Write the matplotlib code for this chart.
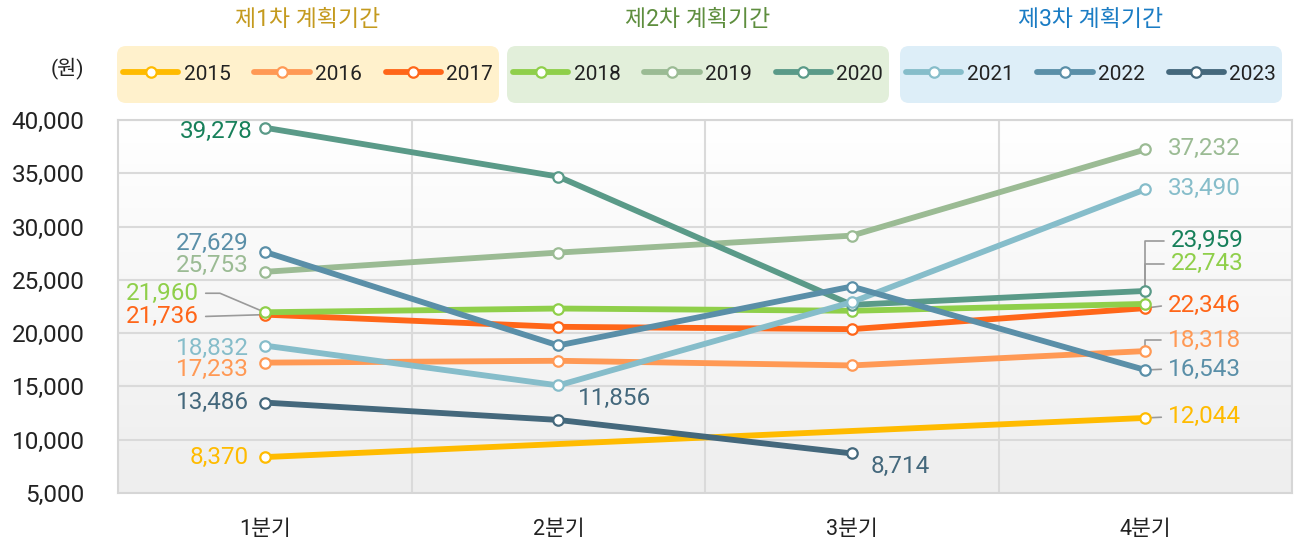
import numpy as np
import matplotlib.pyplot as plt
from matplotlib.patches import FancyBboxPatch
from matplotlib.colors import LinearSegmentedColormap

plt.rcParams['font.family'] = ['Roboto', 'Noto Sans CJK KR', 'DejaVu Sans']

# 데이터
quarters = ['1분기', '2분기', '3분기', '4분기']
years = ['2015', '2016', '2017', '2018', '2019', '2020', '2021', '2022', '2023']
v2015 = [8370, None, None, 12044]
v2016 = [17233, 17406, 16969, 18318]
v2017 = [21736, 20594, 20375, 22346]
v2018 = [21960, 22310, 22100, 22743]
v2019 = [25753, 27560, 29150, 37232]
v2020 = [39278, 34690, 22656, 23959]
v2021 = [18832, 15094, 22906, 33490]
v2022 = [27629, 18843, 24375, 16543]
v2023 = [13486, 11856, 8714, None]
series = [v2015, v2016, v2017, v2018, v2019, v2020, v2021, v2022, v2023]

groups = ['제1차 계획기간', '제2차 계획기간', '제3차 계획기간']
group_colors = ['#C49A1E', '#5E8E3E', '#1A7CC4']
box_colors = ['#FFF1CC', '#E2EFDA', '#DDEEF8']

colors = ['#FFBB00', '#FF9955', '#FF6619', '#8FCF4A', '#9BBB94', '#5A9A88',
          '#86BDCA', '#5A8FA8', '#44687C']
label_colors = ['#FFBB00', '#FF9955', '#FF6619', '#8FCF4A', '#9BBB94', '#17805A',
                '#86BDCA', '#5A8FA8', '#44687C']

# 값 라벨: (연도 index, 분기 index, 픽셀 오프셋(dx, dy), 정렬, 지시선)
labels = [
    (5, 0, (-12, 4), 'right', None),
    (7, 0, (-16, -8), 'right', None),
    (4, 0, (-16, -6), 'right', None),
    (3, 0, (-66, -19), 'right', 'angle,angleA=0,angleB=-23,rad=0'),
    (2, 0, (-66, 2), 'right', 'arc3'),
    (6, 0, (-16, 3), 'right', None),
    (1, 0, (-16, 7), 'right', None),
    (8, 0, (-16, 0), 'right', None),
    (0, 0, (-16, 0), 'right', None),
    (8, 1, (20, -21), 'left', None),
    (8, 2, (19, 13), 'left', None),
    (4, 3, (23, -1), 'left', None),
    (6, 3, (23, -1), 'left', None),
    (5, 3, (26, -50), 'left', 'angle,angleA=0,angleB=90,rad=0'),
    (3, 3, (26, -40), 'left', 'angle,angleA=0,angleB=90,rad=0'),
    (2, 3, (23, -3), 'left', 'arc3'),
    (1, 3, (23, -11), 'left', 'angle,angleA=0,angleB=90,rad=0'),
    (7, 3, (23, -1), 'left', 'arc3'),
    (0, 3, (23, -1), 'left', 'arc3'),
]

W, H = 1294, 549
fig = plt.figure(figsize=(W / 100, H / 100), dpi=100)
ax = fig.add_axes([118 / W, 1 - 493 / H, (1292 - 118) / W, (493 - 120) / H])

# 배경 그라데이션
cmap = LinearSegmentedColormap.from_list('bg', ['#FFFFFF', '#EEEEEE'])
ax.imshow(np.linspace(0, 1, 256).reshape(-1, 1), cmap=cmap, extent=[0, 1, 0, 1],
          transform=ax.transAxes, aspect='auto', zorder=0)

lines = []
for i, vals in enumerate(series):
    xs = [q for q, v in enumerate(vals) if v is not None]
    ys = [v for v in vals if v is not None]
    ln, = ax.plot(xs, ys, color=colors[i], lw=4.2, marker='o', ms=7.5,
                  mfc='white', mec=colors[i], mew=1.6, label=years[i],
                  zorder=3 + i * 0.1, solid_capstyle='round')
    lines.append(ln)

for yi, qi, (dx, dy), ha, conn in labels:
    v = series[yi][qi]
    ap = None
    if conn:
        ap = dict(arrowstyle='-', color='#9A9A9A', lw=1.2, shrinkA=3, shrinkB=0,
                  connectionstyle=conn, relpos=(1, 0.5) if ha == 'right' else (0, 0.5))
    ax.annotate(f'{v:,}', xy=(qi, v), xytext=(dx * 0.72, -dy * 0.72),
                textcoords='offset points', ha=ha, va='center', fontsize=17.5,
                color=label_colors[yi], arrowprops=ap, zorder=2.5)

ax.set_xlim(-0.5, 3.5)
ax.set_ylim(5000, 40000)
ax.set_xticks(range(4))
ax.set_xticklabels(quarters)
ax.set_xticks([0.5, 1.5, 2.5], minor=True)
ax.set_yticks(range(5000, 40001, 5000))
ax.set_yticklabels([f'{t:,}' for t in range(5000, 40001, 5000)])
ax.tick_params(axis='both', which='both', length=0, colors='#222222')
ax.tick_params(axis='y', labelsize=17.5, pad=24)
ax.tick_params(axis='x', labelsize=15.5, pad=19)
ax.grid(axis='y', which='major', color='#DADADA', lw=1.5, zorder=1)
ax.grid(axis='x', which='minor', color='#DADADA', lw=1.5, zorder=1)
ax.set_axisbelow(True)
for s in ax.spines.values():
    s.set_color('#D6D6D6')
    s.set_linewidth(1.5)

# 범례 상자
box_x = [117, 507, 900]
box_w = 382
for g in range(3):
    x0 = box_x[g] / W
    y0 = 1 - 103 / H
    fig.patches.append(FancyBboxPatch((x0, y0), box_w / W, 57 / H,
                                      boxstyle='round,pad=0,rounding_size=0.007',
                                      mutation_aspect=W / H, transform=fig.transFigure,
                                      facecolor=box_colors[g], edgecolor='none'))
    cx = (box_x[g] + box_w / 2) / W
    fig.text(cx, 1 - 20 / H, groups[g], ha='center', va='center', fontsize=16.5,
             color=group_colors[g])
    leg = fig.legend(handles=lines[g * 3:g * 3 + 3], loc='center',
                     bbox_to_anchor=(cx, 1 - 74 / H), ncol=3, frameon=False,
                     fontsize=15, handlelength=2.65, handletextpad=0.25,
                     columnspacing=1.15, borderaxespad=0)
    for t in leg.get_texts():
        t.set_color('#222222')

fig.text(67 / W, 1 - 68 / H, '(원)', ha='center', va='center', fontsize=15,
         color='#222222')

fig.savefig('out.png', dpi=100)
